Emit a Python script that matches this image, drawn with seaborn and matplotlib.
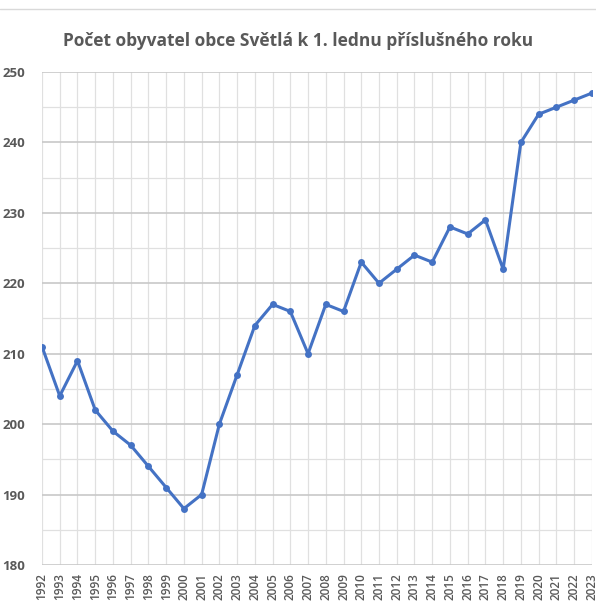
import pandas as pd
import matplotlib.pyplot as plt
import seaborn as sns
from matplotlib.lines import Line2D
from matplotlib.ticker import MultipleLocator

# Population of Světlá on 1 January of each year
years = list(range(1992, 2024))
population = [211, 204, 209, 202, 199, 197, 194, 191, 188, 190,
              200, 207, 214, 217, 216, 210, 217, 216, 223, 220,
              222, 224, 223, 228, 227, 229, 222, 240, 244, 245,
              246, 247]

df = pd.DataFrame({"rok": years, "obyvatel": population})

sns.set_style("white")
plt.rcParams['font.family'] = ['Open Sans', 'DejaVu Sans']

fig = plt.figure(figsize=(5.96, 6.06), dpi=100)
ax = fig.add_axes([0.0705, 0.0677, 0.9225, 0.8135])

sns.lineplot(data=df, x="rok", y="obyvatel", color="#4472C4", linewidth=2.2,
             marker="o", markersize=5, markeredgewidth=0, ax=ax)

ax.set_xlim(1992, 2023)
ax.set_ylim(180, 250)
ax.set_xticks(years)
ax.set_xticklabels([str(y) for y in years], rotation=90, fontsize=8.5,
                   color="#595959", fontweight="semibold")
ax.yaxis.set_major_locator(MultipleLocator(10))
ax.yaxis.set_minor_locator(MultipleLocator(5))
for lab in ax.get_yticklabels():
    lab.set_fontsize(9.5)
    lab.set_color("#595959")
    lab.set_fontweight("bold")
ax.tick_params(axis="both", which="both", length=0, pad=6)
ax.tick_params(axis="y", pad=12)

ax.grid(True, which="major", axis="y", color="#c8c8c8", linewidth=1.2)
ax.grid(True, which="minor", axis="y", color="#e0e0e0", linewidth=0.9)
ax.grid(True, which="major", axis="x", color="#e0e0e0", linewidth=0.9)
ax.set_axisbelow(True)
for s in ax.spines.values():
    s.set_visible(False)
ax.set_xlabel("")
ax.set_ylabel("")

fig.text(0.5, 0.933, "Počet obyvatel obce Světlá k 1. lednu příslušného roku",
         ha="center", va="center", fontsize=12.5, color="#595959", fontweight="bold")

# thin separator at the very top
fig.add_artist(Line2D([0, 1], [0.985, 0.985], color="#d9d9d9", linewidth=1,
                      transform=fig.transFigure))

fig.savefig("out.png", dpi=100)
